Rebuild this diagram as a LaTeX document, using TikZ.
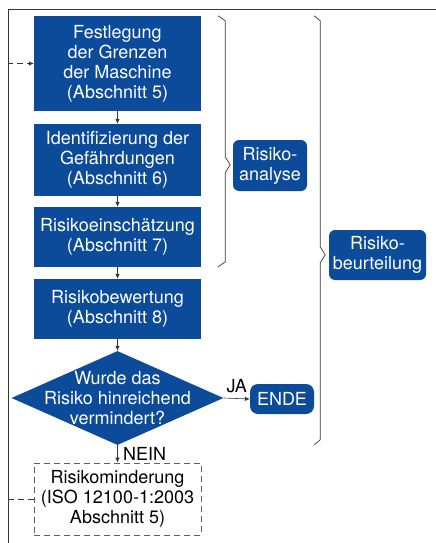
\documentclass[tikz,border=0pt]{standalone}
\usepackage{fontspec}
\setmainfont{TeX Gyre Heros}
\usepackage{tikz}
\usetikzlibrary{arrows.meta,calc,positioning,shapes.geometric}
\usepackage{xcolor}
\definecolor{isoblau}{RGB}{12,75,153}
\definecolor{linie}{RGB}{55,55,55}

\begin{document}
\begin{tikzpicture}[x=1pt, y=-1pt,
  every node/.style={font=\fontsize{18}{20}\selectfont},
  box/.style={fill=isoblau, text=white, minimum width=167pt, align=center, inner sep=0pt},
  raute/.style={diamond, fill=isoblau, minimum width=212pt, minimum height=94pt, inner sep=0pt},
  marke/.style={fill=isoblau, text=white, rounded corners=6pt, align=center, inner sep=0pt},
  pfeil/.style={draw=linie, line width=0.6pt, -{Latex[length=5pt,width=4.5pt]}},
  klammer/.style={draw=linie, line width=0.7pt},
  rahmen/.style={draw=linie, line width=1pt}]

\useasboundingbox (0,0) rectangle (436,543);

\node[box, minimum height=95pt] (b1) at (117.5,63.5) {Festlegung\\der Grenzen\\der Maschine\\(Abschnitt 5)};
\node[box, minimum height=72pt] (b2) at (117.5,160)  {Identifizierung der\\Gefährdungen\\(Abschnitt 6)};
\node[box, minimum height=60pt] (b3) at (117.5,237)  {Risikoeinschätzung\\(Abschnitt 7)};
\node[box, minimum height=60pt] (b4) at (117.5,309)  {Risikobewertung\\(Abschnitt 8)};
\node[raute] (frage) at (117.5,398) {};
\node[text=white, align=center, inner sep=0pt] (fragetext) at (frage.center) {Wurde das\\Risiko hinreichend\\vermindert?};
\node[marke, rounded corners=8pt, minimum width=64pt, minimum height=30pt] (ende) at (282,399) {ENDE};
\node[box, fill=none, text=black, draw=linie!80, line width=0.8pt, dash pattern=on 6pt off 4pt,
      minimum height=72pt] (minderung) at (117.5,499) {Risikominderung\\(ISO 12100-1:2003\\Abschnitt 5)};

\node[marke, minimum width=74pt, minimum height=51pt] (analyse) at (270,165.5) {Risiko-\\analyse};
\node[marke, minimum width=97pt, minimum height=50pt] (beurteilung) at (377.5,255) {Risiko-\\beurteilung};

% Ablauf
\draw[pfeil] (b1) -- (b2);
\draw[pfeil] (b2) -- (b3);
\draw[pfeil] (b3) -- (b4);
\draw[pfeil] (b4) -- (frage);
\draw[pfeil] (frage.east) -- (ende.west) node[midway,above,yshift=2pt]{JA};
\draw[pfeil] (frage.south) -- (minderung.north) node[midway,right,xshift=2pt]{NEIN};

% Rahmen und Rueckfuehrung
\coordinate (links) at (8,10);
\draw[pfeil, dash pattern=on 6pt off 4pt] (minderung.west) -- (minderung.west -| links) |- (b1.west);
\draw[rahmen] (436,10) -- (links) -- (8,543);

% Klammern
\draw[klammer] ($(b1.north east)+(17,0)$) -- ++(7,5) -- ++(0,136) -- ++(5,8) -- ++(-5,8) -- ++(0,89) -- ++(-7,5);
\draw[klammer] ($(b1.north east)+(113,0)$) -- ++(6,5) -- ++(0,226) -- ++(5,8) -- ++(-5,8) -- ++(0,177) -- ++(-6,5);

\end{tikzpicture}
\end{document}
